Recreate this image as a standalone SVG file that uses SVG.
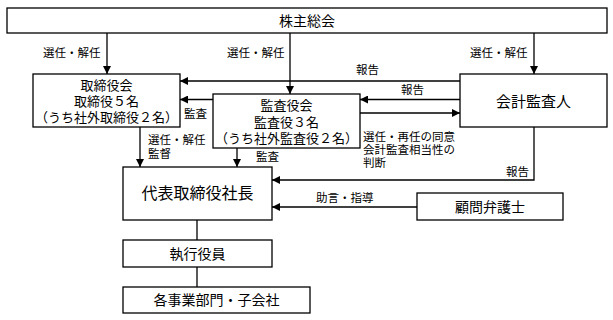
<svg xmlns="http://www.w3.org/2000/svg" width="613" height="320" viewBox="0 0 613 320">
<defs>
<marker id="ah" markerWidth="8" markerHeight="8" refX="8" refY="4" orient="auto" markerUnits="userSpaceOnUse">
<path d="M0,0 L8,4 L0,8 Z" fill="#000"/>
</marker>
<style>
rect{fill:#fff;stroke:#000;stroke-width:1.3}
.c line,.c polyline{stroke:#000;stroke-width:1.3;fill:none}
.a{marker-end:url(#ah)}
text{font-family:"Liberation Sans","Noto Sans CJK JP",sans-serif;fill:#000;dominant-baseline:central}
.n{font-size:14px;text-anchor:middle}
.s{font-size:13px;text-anchor:middle}
.l{font-size:11.5px}
</style>
</defs>
<rect x="0" y="0" width="613" height="320" style="fill:#fff;stroke:none"/>
<g class="c" id="connectors">
<line class="a" x1="107" y1="33" x2="107" y2="74"/>
<line class="a" x1="290" y1="33" x2="290" y2="94"/>
<line class="a" x1="534" y1="33" x2="534" y2="74"/>
<line class="a" x1="460" y1="81" x2="180" y2="81"/>
<line class="a" x1="213" y1="99.5" x2="180" y2="99.5"/>
<line class="a" x1="460" y1="99.5" x2="360" y2="99.5"/>
<line class="a" x1="360" y1="113" x2="460" y2="113"/>
<line class="a" x1="140" y1="127" x2="140" y2="167"/>
<line class="a" x1="237" y1="148" x2="237" y2="167"/>
<polyline class="a" points="534,127 534,180 272,180"/>
<line class="a" x1="417" y1="207" x2="272" y2="207"/>
<line x1="197" y1="220" x2="197" y2="240"/>
<line x1="197" y1="267" x2="197" y2="287"/>
<text class="l" x="43" y="53">選任・解任</text>
<text class="l" x="227" y="53">選任・解任</text>
<text class="l" x="470" y="53">選任・解任</text>
<text class="l" x="356" y="70">報告</text>
<text class="l" x="401" y="90">報告</text>
<text class="l" x="184" y="114">監査</text>
<text class="l" x="148" y="140">選任・解任<tspan x="148" dy="13.5">監督</tspan></text>
<text class="l" x="256" y="157">監査</text>
<text class="l" x="363" y="137">選任・再任の同意<tspan x="363" dy="13">会計監査相当性の</tspan><tspan x="363" dy="13">判断</tspan></text>
<text class="l" x="506" y="172">報告</text>
<text class="l" x="316" y="198">助言・指導</text>
</g>
<g id="shareholders">
<rect x="7" y="8" width="600" height="25"/>
<text class="n" x="307" y="20.5">株主総会</text>
</g>
<g id="board">
<rect x="33" y="74" width="147" height="53"/>
<text class="s" x="106.5" y="85">取締役会<tspan x="106.5" dy="16">取締役５名</tspan><tspan x="106.5" dy="16">（うち社外取締役２名）</tspan></text>
</g>
<g id="auditors">
<rect x="213" y="94" width="147" height="54"/>
<text class="s" x="286.5" y="105">監査役会<tspan x="286.5" dy="16.5">監査役３名</tspan><tspan x="286.5" dy="16.5">（うち社外監査役２名）</tspan></text>
</g>
<g id="accounting">
<rect x="460" y="74" width="147" height="53"/>
<text class="n" x="533.5" y="101" style="font-size:15px">会計監査人</text>
</g>
<g id="president">
<rect x="123" y="167" width="149" height="53"/>
<text class="n" x="197.5" y="193" style="font-size:16px">代表取締役社長</text>
</g>
<g id="lawyer">
<rect x="417" y="193" width="146" height="27"/>
<text class="n" x="490" y="206.5">顧問弁護士</text>
</g>
<g id="officers">
<rect x="123" y="240" width="149" height="27"/>
<text class="n" x="197.5" y="253.5">執行役員</text>
</g>
<g id="divisions">
<rect x="123" y="287" width="187" height="26"/>
<text class="n" x="216.5" y="300">各事業部門・子会社</text>
</g>
</svg>
